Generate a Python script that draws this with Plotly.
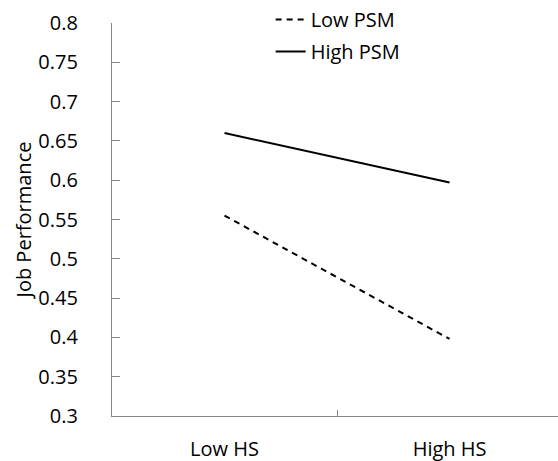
import plotly.graph_objects as go

categories = ["Low HS", "High HS"]
series_names = ["Low PSM", "High PSM"]
low_psm = [0.555, 0.398]
high_psm = [0.660, 0.597]
y_tick_vals = [0.3, 0.35, 0.4, 0.45, 0.5, 0.55, 0.6, 0.65, 0.7, 0.75, 0.8]
y_tick_text = ["0.3", "0.35", "0.4", "0.45", "0.5", "0.55", "0.6", "0.65", "0.7", "0.75", "0.8"]

FONT = "Open Sans"
AXIS = "#868686"

fig = go.Figure()
fig.add_trace(go.Scatter(x=categories, y=low_psm, name=series_names[0], mode="lines",
                         line=dict(color="black", width=2, dash="6px,5px"),
                         legendgroup="a"))
fig.add_trace(go.Scatter(x=categories, y=high_psm, name=series_names[1], mode="lines",
                         line=dict(color="black", width=2),
                         legendgroup="b"))

fig.update_layout(
    width=558, height=461,
    margin=dict(l=0, r=0, t=0, b=45, pad=0),
    paper_bgcolor="white", plot_bgcolor="white",
    font=dict(family=FONT, size=20, color="black"),
    showlegend=True,
    legend=dict(x=0.485, y=1.0, xanchor="left", yanchor="top",
                bgcolor="rgba(0,0,0,0)", tracegroupgap=3,
                font=dict(family=FONT, size=20, color="black")),
    xaxis=dict(type="category", range=[-0.5, 1.482], tickson="boundaries",
               domain=[112 / 558, 1],
               ticks="inside", ticklen=6, tickcolor=AXIS, tickwidth=1.3,
               showline=True, linecolor=AXIS, linewidth=1.3, automargin=False,
               showgrid=False, zeroline=False, ticklabelstandoff=15,
               tickfont=dict(family=FONT, size=20, color="black")),
    yaxis=dict(range=[0.3, 0.8], tickvals=y_tick_vals, ticktext=y_tick_text,
               domain=[0, 393 / 416],
               ticks="inside", ticklen=8, tickcolor=AXIS, tickwidth=1.3,
               showline=True, linecolor=AXIS, linewidth=1.3, automargin=False,
               showgrid=False, zeroline=False, ticklabelstandoff=29,
               tickfont=dict(family=FONT, size=20, color="black"),
               title=dict(text="Job Performance", standoff=1,
                          font=dict(family=FONT, size=20, color="black"))),
)

fig.write_html(
    "out.html",
    config={"displayModeBar": False},
    post_script="document.body.style.margin='0';document.body.style.overflow='hidden';",
)
